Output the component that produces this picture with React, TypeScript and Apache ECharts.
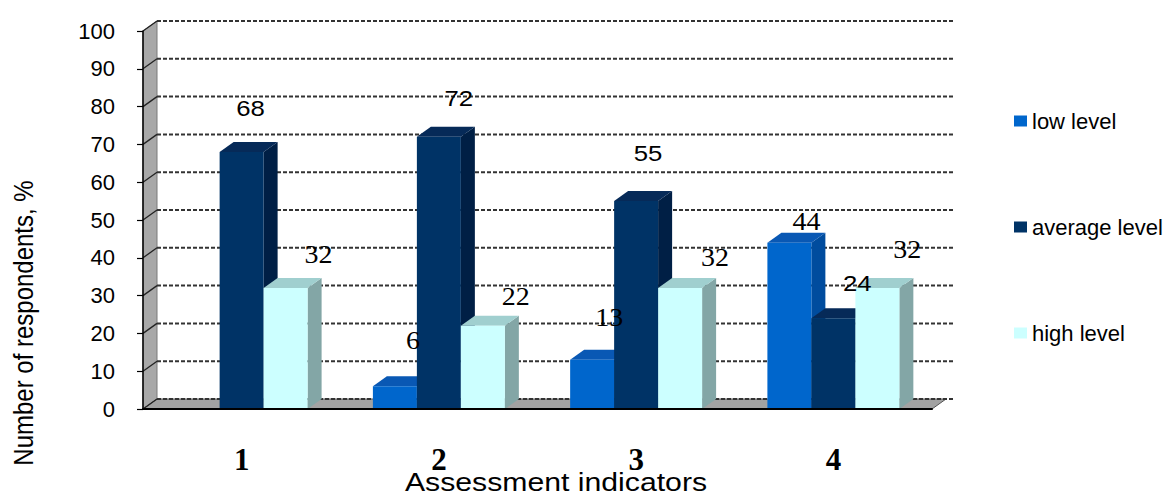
import React, { useEffect, useRef } from "react";
import * as echarts from "echarts";

const CATEGORIES = ["1", "2", "3", "4"];
const SERIES_NAMES = ["low level", "average level", "high level"];
const LOW = [0, 6, 13, 44];
const AVERAGE = [68, 72, 55, 24];
const HIGH = [32, 22, 32, 32];
const Y_TICKS = [0, 10, 20, 30, 40, 50, 60, 70, 80, 90, 100];

// label nudges relative to the bar's front-top centre (styling only)
const LOW_NUDGE = [[0, 0], [18, -46], [17, -42], [17, -21]];
const AVG_NUDGE = [[9, -44], [20, -39], [12, -48], [24, -35]];
const HIGH_NUDGE = [[33, -34], [33, -29], [35, -31], [30, -39]];

const SANS = "Liberation Sans";
const SERIF = "Liberation Serif";
const DX = 14;
const DY = -10;
const BAR_RATIO = 0.223;

type Colors = { front: string; top: string; side: string };

function barSeries(
  name: string,
  values: number[],
  idx: number,
  colors: Colors,
  nudges: number[][],
  family: string,
  size: number
) {
  return {
    type: "custom",
    name,
    coordinateSystem: "cartesian2d",
    z: 2,
    itemStyle: { color: colors.front },
    data: values.map((v, i) => [i, v]),
    renderItem: (params: any, api: any) => {
      const c = api.value(0);
      const v = api.value(1);
      if (!v) return null;
      const b = api.coord([c, 0]);
      const t = api.coord([c, v]);
      const cw = api.size([1, 0])[0];
      const w = cw * BAR_RATIO;
      const x = b[0] + (idx - 1) * w - w / 2;
      const y0 = b[1];
      const y1 = t[1];
      const n = nudges[params.dataIndex] || [0, -30];
      return {
        type: "group",
        children: [
          {
            type: "polygon",
            shape: { points: [[x + w, y1], [x + w + DX, y1 + DY], [x + w + DX, y0 + DY], [x + w, y0]] },
            style: { fill: colors.side },
          },
          {
            type: "polygon",
            shape: { points: [[x, y1], [x + DX, y1 + DY], [x + w + DX, y1 + DY], [x + w, y1]] },
            style: { fill: colors.top },
          },
          {
            type: "rect",
            shape: { x, y: y1, width: w, height: y0 - y1 },
            style: { fill: colors.front },
          },
          {
            type: "text",
            x: x + w / 2 + n[0],
            y: y1 + n[1],
            scaleX: 1.12,
            z2: 100,
            style: {
              legacy: false,
              text: String(v),
              x: 0,
              y: 0,
              fontFamily: family,
              fontSize: size,
              fill: "#000",
              align: "center",
              verticalAlign: "middle",
            },
          },
        ],
      };
    },
  };
}

const decorSeries = {
  type: "custom",
  coordinateSystem: "cartesian2d",
  z: 1,
  silent: true,
  data: [[0, 0]],
  renderItem: (params: any, api: any) => {
    const cs = params.coordSys;
    const x0 = cs.x;
    const yT = cs.y;
    const xR = cs.x + cs.width;
    const yB = cs.y + cs.height;
    const children: any[] = [
      {
        type: "polygon",
        shape: { points: [[x0, yT], [x0 + DX, yT + DY], [x0 + DX, yB + DY], [x0, yB]] },
        style: { fill: "#a8a8a8", stroke: "#7a7a7a", lineWidth: 1 },
      },
      {
        type: "polygon",
        shape: { points: [[x0, yB], [x0 + DX, yB + DY], [xR + DX, yB + DY], [xR, yB]] },
        style: { fill: "#a2a2a2", stroke: "#555", lineWidth: 1 },
      },
    ];
    Y_TICKS.forEach((tv) => {
      const y = api.coord([0, tv])[1];
      children.push({
        type: "line",
        shape: { x1: x0 + DX, y1: y + DY, x2: xR + DX + 9, y2: y + DY },
        style: { stroke: "#333", lineWidth: 2, lineDash: [4, 2] },
      });
      children.push({
        type: "line",
        shape: { x1: x0, y1: y, x2: x0 + DX, y2: y + DY },
        style: { stroke: "#222", lineWidth: 1.3 },
      });
    });
    return { type: "group", children };
  },
};

export default function App() {
  const ref = useRef<HTMLDivElement>(null);
  useEffect(() => {
    if (!ref.current) return;
    const chart = echarts.init(ref.current, null, { renderer: "svg" });
    chart.setOption({
      animation: false,
      backgroundColor: "#fff",
      grid: { left: 143, top: 31, right: 239, bottom: 87 },
      legend: {
        orient: "vertical",
        left: 1009,
        top: 105,
        itemWidth: 13,
        itemHeight: 11,
        itemGap: 84,
        itemTextGap: 7,
        icon: "rect",
        data: SERIES_NAMES,
        textStyle: { fontFamily: SANS, fontSize: 22, color: "#000", lineHeight: 22 },
      },
      xAxis: {
        type: "category",
        data: CATEGORIES,
        z: 5,
        axisLine: { lineStyle: { color: "#000", width: 2 } },
        axisTick: { length: 8, lineStyle: { color: "#000", width: 1.5 } },
        axisLabel: { fontFamily: SERIF, fontWeight: "bold", fontSize: 31, color: "#000", margin: 35 },
      },
      yAxis: {
        type: "value",
        min: 0,
        max: 100,
        interval: 10,
        z: 5,
        axisLine: { show: true, lineStyle: { color: "#000", width: 1.5 } },
        axisTick: { show: true, length: 6, lineStyle: { color: "#000", width: 1.2 } },
        splitLine: { show: false },
        axisLabel: { fontFamily: SANS, fontSize: 22, color: "#000", margin: 28 },
      },
      graphic: [
        {
          type: "text",
          x: 24,
          y: 323,
          rotation: Math.PI / 2,
          scaleY: 1.12,
          style: {
            text: "Number of respondents, %",
            x: 0,
            y: 0,
            fontFamily: SANS,
            fontSize: 24,
            fill: "#000",
            align: "center",
            verticalAlign: "middle",
          },
        },
        {
          type: "text",
          x: 556,
          y: 482,
          scaleX: 1.14,
          style: {
            text: "Assessment indicators",
            x: 0,
            y: 0,
            fontFamily: SANS,
            fontSize: 26.5,
            fill: "#000",
            align: "center",
            verticalAlign: "middle",
          },
        },
      ],
      series: [
        decorSeries,
        barSeries(SERIES_NAMES[0], LOW, 0, { front: "#0066cc", top: "#0958b4", side: "#004c9e" }, LOW_NUDGE, SERIF, 25),
        barSeries(SERIES_NAMES[1], AVERAGE, 1, { front: "#003366", top: "#062a58", side: "#001f45" }, AVG_NUDGE, SANS, 23),
        barSeries(SERIES_NAMES[2], HIGH, 2, { front: "#ccffff", top: "#a0cfcf", side: "#83a6a6" }, HIGH_NUDGE, SERIF, 25),
      ],
    });
    return () => chart.dispose();
  }, []);
  return (
    <div
      ref={ref}
      style={{ position: "fixed", left: 0, top: 0, width: 1171, height: 496 }}
    />
  );
}
